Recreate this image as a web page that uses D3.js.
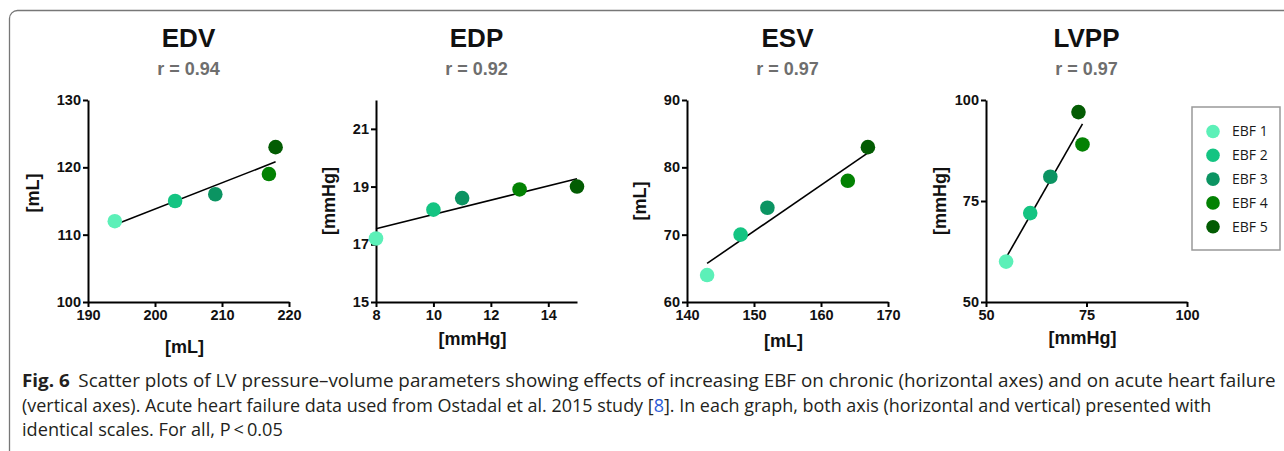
<!DOCTYPE html>
<html>
<head>
<meta charset="utf-8">
<script src="https://cdn.jsdelivr.net/npm/d3@7"></script>
<style>
  body { margin: 0; background: #fff; }
  svg { display: block; }
</style>
</head>
<body>
<script>
// data
var groups = ["EBF 1", "EBF 2", "EBF 3", "EBF 4", "EBF 5"];
var panelNames = ["EDV", "EDP", "ESV", "LVPP"];
var rValues = ["0.94", "0.92", "0.97", "0.97"];
var unitLabels = ["[mL]", "[mmHg]", "[mL]", "[mmHg]"];

// chronic (x) / acute (y) values per EBF group
var edvX = [194, 203, 209, 217, 218];
var edvY = [112, 115, 116, 119, 123];
var edpX = [8, 10, 11, 13, 15];
var edpY = [17.2, 18.2, 18.6, 18.9, 19.0];
var esvX = [143, 148, 152, 164, 167];
var esvY = [64, 70, 74, 78, 83];
var lvppX = [55, 61, 66, 74, 73];
var lvppY = [60, 72, 81, 89, 97];

var xDomains = [[190, 220], [8, 15], [140, 170], [50, 100]];
var yDomains = [[100, 130], [15, 22], [60, 90], [50, 100]];
var xTicks = [[190, 200, 210, 220], [8, 10, 12, 14], [140, 150, 160, 170], [50, 75, 100]];
var yTicks = [[100, 110, 120, 130], [15, 17, 19, 21], [60, 70, 80, 90], [50, 75, 100]];

var captionLines = [
  "Scatter plots of LV pressure\u2013volume parameters showing effects of increasing EBF on chronic (horizontal axes) and on acute heart failure",
  "(vertical axes). Acute heart failure data used from Ostadal et al. 2015 study [8]. In each graph, both axis (horizontal and vertical) presented with",
  "identical scales. For all, P\u2009<\u20090.05"
];

var colors = ["#5cf0b8", "#14c482", "#0b9462", "#038203", "#035c03"];

// layout
var W = 1284, H = 451;
var plotLeft = [88, 376, 687, 986];
var plotTop = 100, plotW = 201, plotH = 202;
var yLabelOff = [55, 47, 47, 46];
var yLabelMid = [-8, 0, 0, 0];
var xLabelOff = [51, 43, 45, 42];
var fontA = "Arial, 'Liberation Sans', sans-serif";

var xs = [edvX, edpX, esvX, lvppX];
var ys = [edvY, edpY, esvY, lvppY];

var svg = d3.select("body").append("svg")
    .attr("width", W)
    .attr("height", H);

// frame
svg.append("rect")
    .attr("x", 9.5).attr("y", 10.5)
    .attr("width", 1320).attr("height", 480)
    .attr("rx", 8)
    .attr("fill", "none")
    .attr("stroke", "#777")
    .attr("stroke-width", 1.3);

function fit(px, py) {
  var mx = d3.mean(px), my = d3.mean(py);
  var sxy = d3.sum(px, (v, i) => (v - mx) * (py[i] - my));
  var sxx = d3.sum(px, v => (v - mx) * (v - mx));
  var b = sxy / sxx;
  return v => my + b * (v - mx);
}

function styleAxis(a) {
  a.attr("font-family", fontA)
   .attr("font-size", 14.5)
   .attr("font-weight", "bold");
  a.select(".domain").attr("stroke", "#000").attr("stroke-width", 2);
  a.selectAll(".tick line").attr("stroke", "#000").attr("stroke-width", 2);
  a.selectAll(".tick text").attr("fill", "#111");
}

panelNames.forEach(function(name, p) {
  var g = svg.append("g").attr("transform", `translate(${plotLeft[p]},${plotTop})`);
  var x = d3.scaleLinear().domain(xDomains[p]).range([0, plotW]);
  var y = d3.scaleLinear().domain(yDomains[p]).range([plotH, 0]);

  // title + r
  g.append("text")
      .attr("x", plotW / 2).attr("y", -53)
      .attr("text-anchor", "middle")
      .attr("font-family", fontA)
      .attr("font-weight", "bold")
      .attr("font-size", 26)
      .attr("fill", "#111")
      .text(name);
  g.append("text")
      .attr("x", plotW / 2).attr("y", -25)
      .attr("text-anchor", "middle")
      .attr("font-family", fontA)
      .attr("font-weight", "bold")
      .attr("font-size", 18)
      .attr("fill", "#6e6e6e")
      .text("r = " + rValues[p]);

  g.append("g")
      .attr("transform", `translate(0,${plotH})`)
      .call(d3.axisBottom(x).tickValues(xTicks[p]).tickFormat(d3.format("d"))
        .tickSize(5).tickSizeOuter(0).tickPadding(3))
      .call(styleAxis);
  g.append("g")
      .call(d3.axisLeft(y).tickValues(yTicks[p]).tickFormat(d3.format("d"))
        .tickSize(5).tickSizeOuter(0).tickPadding(2))
      .call(styleAxis);

  // axis labels
  g.append("text")
      .attr("x", plotW / 2 - 4).attr("y", plotH + xLabelOff[p])
      .attr("text-anchor", "middle")
      .attr("font-family", fontA)
      .attr("font-weight", "bold")
      .attr("font-size", 18)
      .attr("fill", "#111")
      .text(unitLabels[p]);
  g.append("text")
      .attr("transform", `translate(${-yLabelOff[p]},${plotH / 2 + yLabelMid[p]}) rotate(-90)`)
      .attr("dy", "0.35em")
      .attr("text-anchor", "middle")
      .attr("font-family", fontA)
      .attr("font-weight", "bold")
      .attr("font-size", 18)
      .attr("fill", "#111")
      .text(unitLabels[p]);

  // regression line
  var f = fit(xs[p], ys[p]);
  var ext = d3.extent(xs[p]);
  g.append("line")
      .attr("x1", x(ext[0])).attr("y1", y(f(ext[0])))
      .attr("x2", x(ext[1])).attr("y2", y(f(ext[1])))
      .attr("stroke", "#000")
      .attr("stroke-width", 1.6);

  g.selectAll("circle.pt")
    .data(groups)
    .join("circle")
      .attr("class", "pt")
      .attr("cx", (d, i) => x(xs[p][i]))
      .attr("cy", (d, i) => y(ys[p][i]))
      .attr("r", 7.3)
      .attr("fill", (d, i) => colors[i]);
});

// legend
var leg = svg.append("g").attr("transform", "translate(1192,107)");
leg.append("rect")
    .attr("width", 88).attr("height", 143)
    .attr("fill", "#fff")
    .attr("stroke", "#999")
    .attr("stroke-width", 1.5);
var li = leg.selectAll("g.item")
  .data(groups)
  .join("g")
    .attr("class", "item")
    .attr("transform", (d, i) => `translate(21,${24.5 + i * 23.8})`);
li.append("circle").attr("r", 6.8).attr("fill", (d, i) => colors[i]);
li.append("text")
    .attr("x", 19).attr("dy", "0.35em")
    .attr("font-family", "'Open Sans', sans-serif")
    .attr("font-size", 14)
    .attr("fill", "#1a1a1a")
    .text(d => d);

// caption
var capEnds = [1268, 1212, 283];
var cap = svg.append("g")
    .attr("font-family", "'Open Sans', sans-serif")
    .attr("font-size", 17.5)
    .attr("fill", "#231f20");
captionLines.forEach(function(line, i) {
  var t = cap.append("text")
      .attr("x", 0)
      .attr("y", 0);
  if (i === 0) {
    t.append("tspan").attr("font-weight", "bold").text("Fig. 6");
    t.append("tspan").attr("dx", 8).text(line);
  } else if (i === 1) {
    var parts = line.split("[8]");
    t.append("tspan").text(parts[0] + "[");
    t.append("tspan").attr("fill", "#2b5bd7").text("8");
    t.append("tspan").text("]" + parts[1]);
  } else {
    t.text(line);
  }
  var w = t.node().getComputedTextLength();
  var k = (capEnds[i] - 22) / w;
  t.attr("transform", `translate(22,${387 + i * 24.5}) scale(${k},1)`);
});
</script>
</body>
</html>
